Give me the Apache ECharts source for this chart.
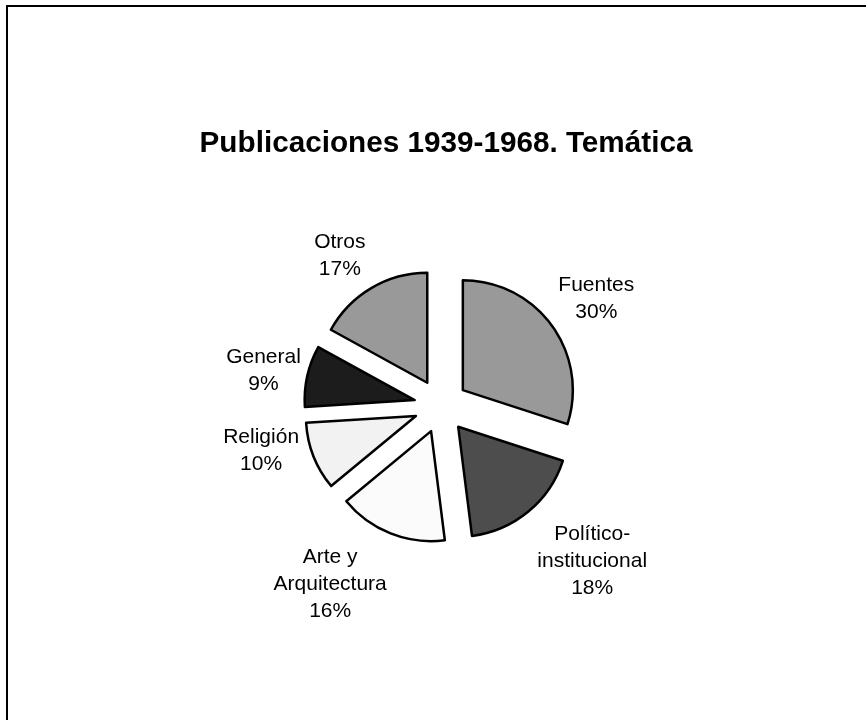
<!DOCTYPE html>
<html>
<head>
<meta charset="utf-8">
<script src="https://cdn.jsdelivr.net/npm/echarts@6/dist/echarts.min.js"></script>
<style>
  html, body { margin: 0; padding: 0; background: #ffffff; }
  #chart { width: 866px; height: 720px; }
</style>
</head>
<body>
<div id="chart"></div>
<script>
// ---- Data ----
const categories = ['Fuentes', 'Político-\ninstitucional', 'Arte y\nArquitectura', 'Religión', 'General', 'Otros'];
const shares = [30, 18, 16, 10, 9, 17];
const sliceColors = ['#999999', '#4d4d4d', '#fbfbfb', '#f2f2f2', '#1c1c1c', '#999999'];
const titleText = 'Publicaciones 1939-1968. Temática';

// ---- Layout / style (not data) ----
const FONT = '"Liberation Sans", Arial, sans-serif';
const CENTER = [441, 406];
const LABEL_SIZE = 21;
// small label nudges (px) mimicking the original's label placement
const labelNudges = [[4, 3], [32, 11], [-42, 4], [-6, -24], [5, 5], [-6, 11]];

const pieData = categories.map((c, i) => ({
  name: c,
  value: shares[i],
  selected: true,
  itemStyle: { color: sliceColors[i] }
}));

const labelData = categories.map((c, i) => ({
  name: c,
  value: shares[i],
  label: { offset: labelNudges[i] }
}));

const chart = echarts.init(document.getElementById('chart'), null, { renderer: 'canvas' });
chart.setOption({
  animation: false,
  backgroundColor: '#ffffff',
  graphic: [
    {
      type: 'rect',
      shape: { x: 7, y: 6, width: 900, height: 800 },
      style: { fill: 'none', stroke: '#000000', lineWidth: 2 },
      silent: true
    },
    {
      type: 'text',
      x: 446,
      y: 144,
      silent: true,
      style: {
        text: titleText,
        fill: '#000000',
        font: 'bold 29.7px ' + FONT,
        textAlign: 'center',
        textVerticalAlign: 'middle'
      }
    }
  ],
  series: [
    {
      type: 'pie',
      center: CENTER,
      radius: [0, 110],
      startAngle: 90,
      clockwise: true,
      selectedMode: 'multiple',
      selectedOffset: 27,
      silent: true,
      emphasis: { disabled: true },
      select: { itemStyle: { borderColor: '#000000', borderWidth: 2.5 } },
      itemStyle: { borderColor: '#000000', borderWidth: 2.5 },
      label: { show: false },
      labelLine: { show: false },
      data: pieData
    },
    {
      type: 'pie',
      center: CENTER,
      radius: [150, 218],
      startAngle: 90,
      clockwise: true,
      silent: true,
      emphasis: { disabled: true },
      itemStyle: { color: 'rgba(0,0,0,0)', borderWidth: 0 },
      labelLine: { show: false },
      label: {
        show: true,
        position: 'inside',
        color: '#000000',
        fontFamily: FONT,
        fontSize: LABEL_SIZE,
        lineHeight: 27,
        textBorderWidth: 0,
        formatter: function (p) {
          const lines = p.name.split('\n').concat([Math.round(p.percent) + '%']);
          return lines.map(s => '{t|' + s + '}').join('\n');
        },
        rich: {
          t: { align: 'center', fontFamily: FONT, fontSize: LABEL_SIZE, lineHeight: 27, color: '#000000' }
        }
      },
      data: labelData
    }
  ]
});
</script>
</body>
</html>
